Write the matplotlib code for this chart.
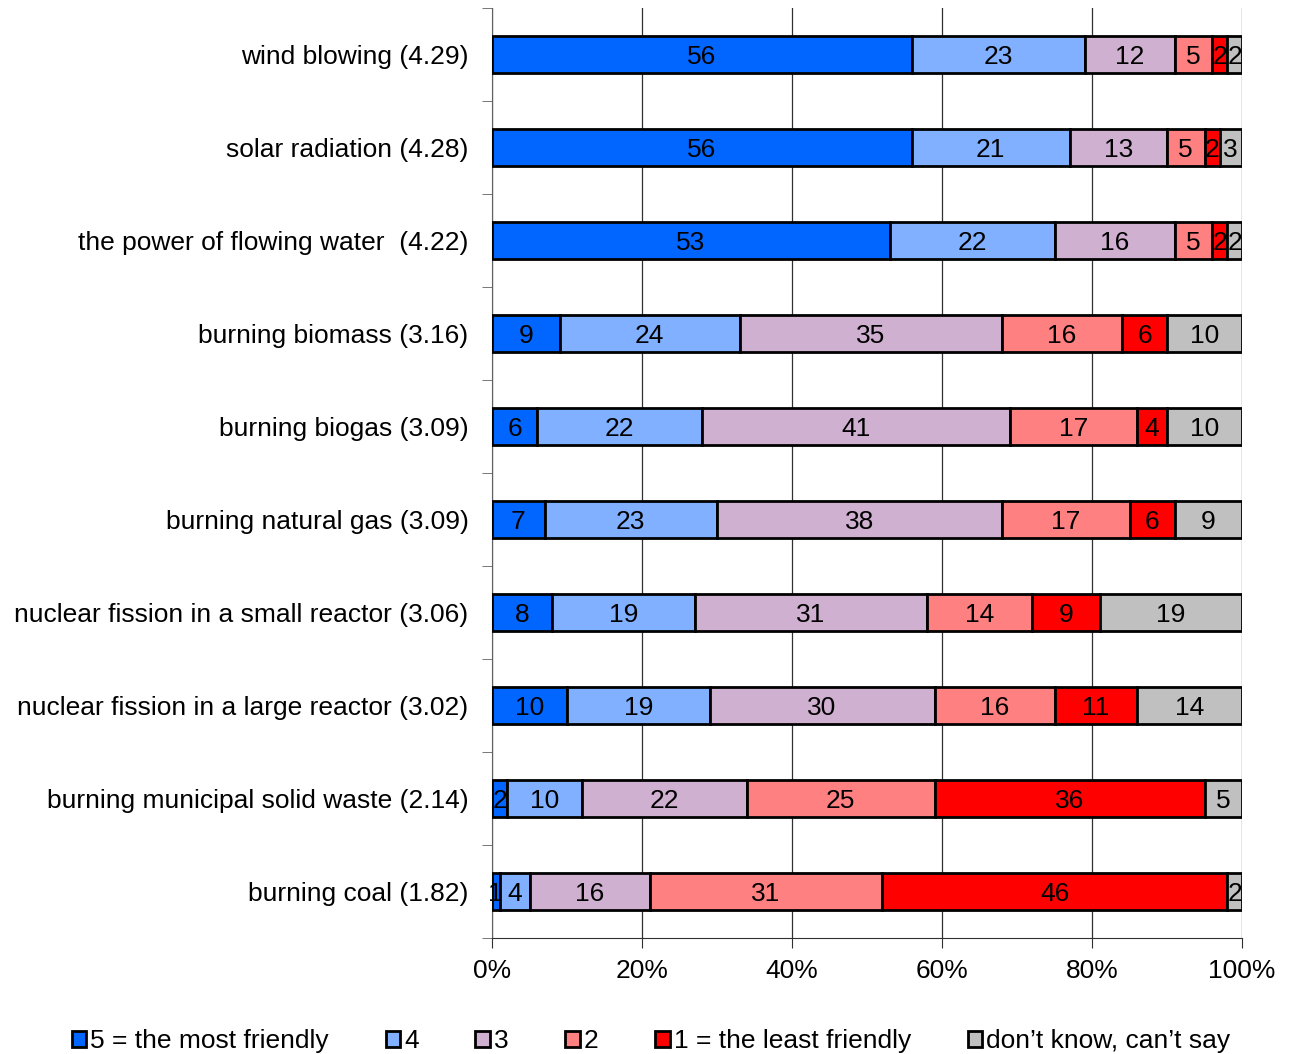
import numpy as np
import matplotlib.pyplot as plt

plt.rcParams['font.family'] = ['Liberation Sans', 'DejaVu Sans']

categories = [
    "wind blowing (4.29)",
    "solar radiation (4.28)",
    "the power of flowing water  (4.22)",
    "burning biomass (3.16)",
    "burning biogas (3.09)",
    "burning natural gas (3.09)",
    "nuclear fission in a small reactor (3.06)",
    "nuclear fission in a large reactor (3.02)",
    "burning municipal solid waste (2.14)",
    "burning coal (1.82)",
]

series_names = ["5 = the most friendly", "4", "3", "2",
                "1 = the least friendly", "don\u2019t know, can\u2019t say"]

s5 = [56, 56, 53, 9, 6, 7, 8, 10, 2, 1]
s4 = [23, 21, 22, 24, 22, 23, 19, 19, 10, 4]
s3 = [12, 13, 16, 35, 41, 38, 31, 30, 22, 16]
s2 = [5, 5, 5, 16, 17, 17, 14, 16, 25, 31]
s1 = [2, 2, 2, 6, 4, 6, 9, 11, 36, 46]
dk = [2, 3, 2, 10, 10, 9, 19, 14, 5, 2]

colors = ["#0066FF", "#80B0FF", "#D0B0D0", "#FF8080", "#FF0000", "#C0C0C0"]

FS = 19

fig = plt.figure(figsize=(12.9, 10.54), dpi=100)
ax = fig.add_axes([492 / 1290, 116 / 1054, 750 / 1290, 930 / 1054])

y = np.arange(len(categories))
left = np.zeros(len(categories))
handles = []
for vals, col, name in zip([s5, s4, s3, s2, s1, dk], colors, series_names):
    vals = np.array(vals, dtype=float)
    bars = ax.barh(y, vals, left=left, height=0.4, color=col,
                   edgecolor="black", linewidth=2.0, label=name, zorder=3)
    handles.append(bars)
    for yi, l, v in zip(y, left, vals):
        ax.text(l + v / 2, yi, f"{int(v)}", ha="center", va="center_baseline",
                fontsize=FS, color="black", zorder=4)
    left += vals

ax.set_xlim(0, 100)
ax.set_ylim(len(categories) - 0.5, -0.5)
ax.set_yticks(y)
ax.set_yticklabels(categories, fontsize=FS)
ax.tick_params(axis="y", which="major", length=0, pad=17)
ax.set_yticks(np.arange(-0.5, len(categories) + 0.5, 1), minor=True)
ax.tick_params(axis="y", which="minor", length=7, color="#606060", direction="out")

ax.set_xticks(np.arange(0, 101, 20))
ax.set_xticklabels([f"{v}%" for v in range(0, 101, 20)], fontsize=FS)
ax.tick_params(axis="x", length=7, color="#303030", pad=8)
ax.grid(axis="x", color="#303030", linewidth=0.9, zorder=0)

for side in ["top", "right"]:
    ax.spines[side].set_visible(False)
ax.spines["left"].set_color("#606060")
ax.spines["bottom"].set_color("#303030")

fig.legend(handles=handles, labels=series_names, loc="center",
           bbox_to_anchor=(0.5 + 6 / 1290, 13 / 1054), ncol=6, frameon=False,
           fontsize=FS, handlelength=0.55, handleheight=0.55,
           handletextpad=0.15, columnspacing=2.15)

fig.savefig("out.png", dpi=100)
